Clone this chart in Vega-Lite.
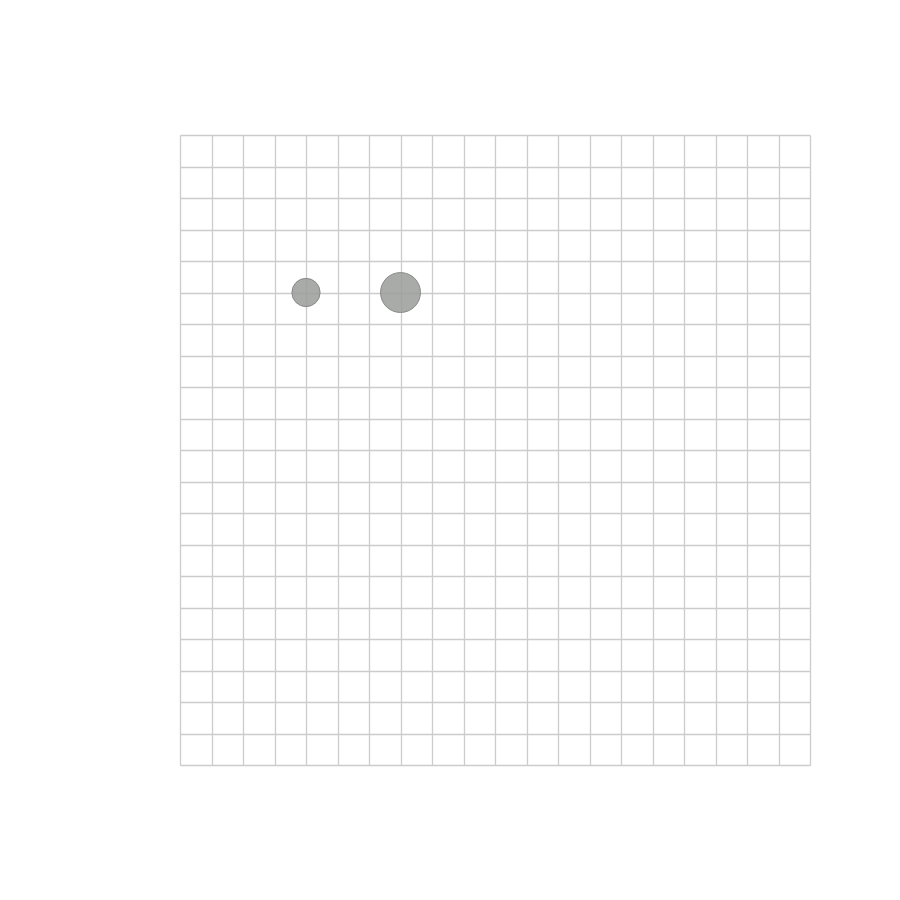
{
  "$schema": "https://vega.github.io/schema/vega-lite/v6.json",
  "width": 630,
  "height": 630,
  "autosize": {"type": "none"},
  "padding": {"left": 180, "top": 135, "right": 90, "bottom": 135},
  "background": "white",
  "config": {"view": {"stroke": null}},
  "data": {"values": [
    {"x": 4, "y": 15, "v": 1},
    {"x": 7, "y": 15, "v": 2}
  ]},
  "mark": {"type": "circle", "fill": "#9a9c99", "fillOpacity": 0.85, "stroke": "#7a7c79", "strokeWidth": 0.8, "opacity": 1},
  "encoding": {
    "x": {"field": "x", "type": "quantitative", "scale": {"domain": [0, 20], "nice": false, "zero": false},
      "axis": {"title": null, "labels": false, "ticks": false, "domain": false, "values": [0,1,2,3,4,5,6,7,8,9,10,11,12,13,14,15,16,17,18,19,20], "gridColor": "#cccccc", "gridWidth": 1.3, "gridOpacity": 1}},
    "y": {"field": "y", "type": "quantitative", "scale": {"domain": [0, 20], "nice": false, "zero": false},
      "axis": {"title": null, "labels": false, "ticks": false, "domain": false, "values": [0,1,2,3,4,5,6,7,8,9,10,11,12,13,14,15,16,17,18,19,20], "gridColor": "#cccccc", "gridWidth": 1.3, "gridOpacity": 1}},
    "size": {"field": "v", "type": "quantitative", "scale": {"domain": [0, 2], "range": [0, 1600]}, "legend": null}
  }
}
